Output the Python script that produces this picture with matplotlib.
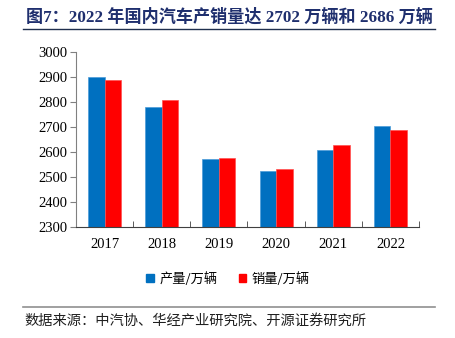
import matplotlib
matplotlib.use("Agg")
import matplotlib.pyplot as plt
import numpy as np
from matplotlib.lines import Line2D
from matplotlib.patches import Patch

plt.rcParams['font.family'] = ['Liberation Serif', 'Noto Sans CJK SC']

years = ["2017", "2018", "2019", "2020", "2021", "2022"]
production = [2901.5, 2780.9, 2572.1, 2522.5, 2608.2, 2702.1]
sales = [2887.9, 2808.1, 2576.9, 2531.1, 2627.5, 2686.4]

blue = "#0070C0"
red = "#FF0000"

fig = plt.figure(figsize=(4.56, 3.38), dpi=100)
ax = fig.add_axes([76 / 456, 1 - 227 / 338, (419 - 76) / 456, (227 - 52) / 338])

x = np.arange(len(years))
w = 0.29
ax.bar(x - w / 2, production, w, color=blue, edgecolor="#4A9BD8", linewidth=0.5, label="产量/万辆")
ax.bar(x + w / 2, sales, w, color=red, edgecolor="#FF5050", linewidth=0.5, label="销量/万辆")

ax.set_ylim(2300, 3000)
ax.set_yticks(range(2300, 3001, 100))
ax.set_xlim(-0.5, len(years) - 0.5)
ax.set_xticks(x)
ax.set_xticklabels(years)
ax.set_xticks(np.arange(-0.5, len(years)), minor=True)
ax.tick_params(axis="x", which="major", length=0, labelsize=10.5, pad=8)
ax.tick_params(axis="x", which="minor", direction="in", length=4, color="#404040")
ax.tick_params(axis="y", length=4, color="#808080", labelsize=10.5, pad=2)
for s in ["top", "right"]:
    ax.spines[s].set_visible(False)
ax.spines["left"].set_color("#808080")
ax.spines["bottom"].set_color("#404040")

handles = [Patch(color=blue), Patch(color=red)]
fig.legend(handles, ["产量/万辆", "销量/万辆"], loc="center", bbox_to_anchor=(228 / 456, 1 - 279 / 338),
           ncol=2, frameon=False, prop={"family": "Noto Sans CJK SC", "size": 9.5},
           handlelength=0.6, handleheight=0.6, handletextpad=0.4, columnspacing=1.6)

fig.text(26 / 456, 1 - 17 / 338, "图7：2022 年国内汽车产销量达 2702 万辆和 2686 万辆",
         family=["Liberation Serif", "Noto Sans CJK SC"], fontweight="bold", fontsize=12.3,
         color="#1F2F6E", va="center", ha="left")
fig.add_artist(Line2D([23 / 456, 435 / 456], [1 - 29 / 338, 1 - 29 / 338], color="#1F2F4E", linewidth=1))
fig.add_artist(Line2D([23 / 456, 435 / 456], [1 - 307 / 338, 1 - 307 / 338], color="#909090", linewidth=1.2))
fig.text(24 / 456, 1 - 321 / 338, "数据来源：中汽协、华经产业研究院、开源证券研究所",
         family=["Noto Sans CJK SC"], fontsize=10.3, color="#202020", va="center", ha="left")

fig.savefig("out.png", dpi=100)
